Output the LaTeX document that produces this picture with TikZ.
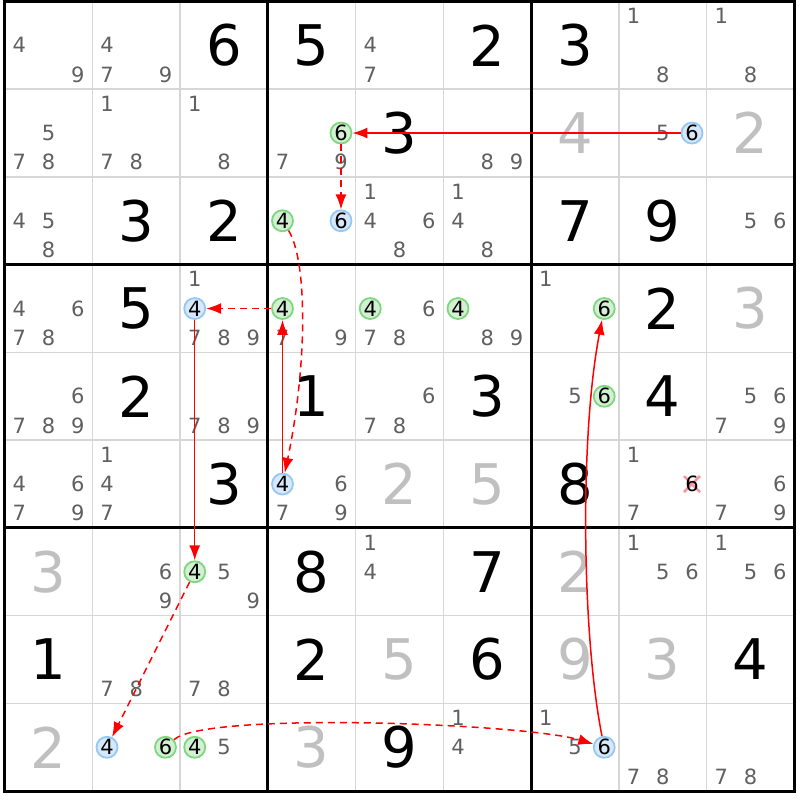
\documentclass[tikz,border=0pt]{standalone}
\usepackage{fontspec}
\setmainfont{DejaVu Sans}
\usetikzlibrary{arrows.meta}
\definecolor{candgray}{RGB}{96,96,96}
\definecolor{solvgray}{RGB}{192,192,192}
\definecolor{gridgray}{RGB}{214,214,214}
\definecolor{gfill}{RGB}{212,240,212}
\definecolor{gline}{RGB}{125,215,125}
\definecolor{bfill}{RGB}{214,232,250}
\definecolor{bline}{RGB}{150,200,245}
\definecolor{linkred}{RGB}{255,0,0}
\definecolor{crossred}{RGB}{245,150,160}
\def\ox{4.6}
\def\oy{1.4}
\tikzset{
  cand/.style={inner sep=0pt, text=candgray, font=\fontsize{21}{21}\selectfont},
  gc/.style={circle, draw=gline, fill=gfill, line width=1.8pt, minimum size=21pt, inner sep=0pt, text=black, font=\fontsize{21}{21}\selectfont},
  bc/.style={circle, draw=bline, fill=bfill, line width=1.8pt, minimum size=21pt, inner sep=0pt, text=black, font=\fontsize{21}{21}\selectfont},
  plainc/.style={inner sep=0pt, text=black, font=\fontsize{21}{21}\selectfont},
  givenD/.style={inner sep=0pt, text=black, font=\fontsize{56}{56}\selectfont},
  solvedD/.style={inner sep=0pt, text=solvgray, font=\fontsize{56}{56}\selectfont},
  link/.style={draw=linkred, color=linkred, line width=1.5pt, -{Latex[length=15pt,width=11pt]}},
  weak/.style={link, line width=1.5pt, dash pattern=on 7pt off 5pt},
}
\newcommand\cands[3]{\foreach \d in {#3}{%
  \pgfmathsetmacro\px{\ox+87.75*#2+(2*mod(\d-1,3)+1)*87.75/6}%
  \pgfmathsetmacro\py{\oy+87.75*#1+(2*floor((\d-1)/3)+1)*87.75/6}%
  \node[cand] (n-#1-#2-\d) at (\px,\py) {\d};}}
\newcommand\ccand[4]{%
  \pgfmathsetmacro\px{\ox+87.75*#2+(2*mod(#3-1,3)+1)*87.75/6}%
  \pgfmathsetmacro\py{\oy+87.75*#1+(2*floor((#3-1)/3)+1)*87.75/6}%
  \node[#4c] (#4-#1-#2-#3) at (\px,\py) {#3};}
\newcommand\gv[3]{\node[givenD] (v-#1-#2) at ({\ox+87.75*(#2+0.5)},{\oy+87.75*(#1+0.5)}) {#3};}
\newcommand\sv[3]{\node[solvedD] (v-#1-#2) at ({\ox+87.75*(#2+0.5)},{\oy+87.75*(#1+0.5)}) {#3};}
\begin{document}
\begin{tikzpicture}[x=1pt,y=-1pt]
\useasboundingbox[fill=white] (0,0) rectangle (800,800);
% grid
\foreach \i in {1,2,4,5,7,8}{
  \draw[gridgray, line width=1.5pt] ({\ox+87.75*\i},\oy) -- ({\ox+87.75*\i},{\oy+789.75});
  \draw[gridgray, line width=1.5pt] (\ox,{\oy+87.75*\i}) -- ({\ox+789.75},{\oy+87.75*\i});
}
\foreach \i in {3,6}{
  \draw[black, line width=3pt] ({\ox+87.75*\i},\oy) -- ({\ox+87.75*\i},{\oy+789.75});
  \draw[black, line width=3pt] (\ox,{\oy+87.75*\i}) -- ({\ox+789.75},{\oy+87.75*\i});
}
\draw[black, line width=3pt] (\ox,\oy) rectangle ({\ox+789.75},{\oy+789.75});
% givens
\gv{0}{2}{6}\gv{0}{3}{5}\gv{0}{5}{2}\gv{0}{6}{3}
\gv{1}{4}{3}
\gv{2}{1}{3}\gv{2}{2}{2}\gv{2}{6}{7}\gv{2}{7}{9}
\gv{3}{1}{5}\gv{3}{7}{2}
\gv{4}{1}{2}\gv{4}{3}{1}\gv{4}{5}{3}\gv{4}{7}{4}
\gv{5}{2}{3}\gv{5}{6}{8}
\gv{6}{3}{8}\gv{6}{5}{7}
\gv{7}{0}{1}\gv{7}{3}{2}\gv{7}{5}{6}\gv{7}{8}{4}
\gv{8}{4}{9}
% solved
\sv{1}{6}{4}\sv{1}{8}{2}
\sv{3}{8}{3}
\sv{5}{4}{2}\sv{5}{5}{5}
\sv{6}{0}{3}\sv{6}{6}{2}
\sv{7}{4}{5}\sv{7}{6}{9}\sv{7}{7}{3}
\sv{8}{0}{2}\sv{8}{3}{3}
% candidates
\cands{0}{0}{4,9}\cands{0}{1}{4,7,9}\cands{0}{4}{4,7}\cands{0}{7}{1,8}\cands{0}{8}{1,8}
\cands{1}{0}{5,7,8}\cands{1}{1}{1,7,8}\cands{1}{2}{1,8}\cands{1}{3}{7,9}\cands{1}{5}{8,9}\cands{1}{7}{5}
\cands{2}{0}{4,5,8}\cands{2}{4}{1,4,6,8}\cands{2}{5}{1,4,8}\cands{2}{8}{5,6}
\cands{3}{0}{4,6,7,8}\cands{3}{2}{1,7,8,9}\cands{3}{3}{7,9}\cands{3}{4}{6,7,8}\cands{3}{5}{8,9}\cands{3}{6}{1}
\cands{4}{0}{6,7,8,9}\cands{4}{2}{7,8,9}\cands{4}{4}{6,7,8}\cands{4}{6}{5}\cands{4}{8}{5,6,7,9}
\cands{5}{0}{4,6,7,9}\cands{5}{1}{1,4,7}\cands{5}{3}{6,7,9}\cands{5}{7}{1,7}\cands{5}{8}{6,7,9}
\cands{6}{1}{6,9}\cands{6}{2}{5,9}\cands{6}{4}{1,4}\cands{6}{7}{1,5,6}\cands{6}{8}{1,5,6}
\cands{7}{1}{7,8}\cands{7}{2}{7,8}
\cands{8}{2}{5}\cands{8}{5}{1,4}\cands{8}{6}{1,5}\cands{8}{7}{7,8}\cands{8}{8}{7,8}
% crossed candidate
\coordinate (x576) at ({\ox+87.75*7+5*87.75/6},{\oy+87.75*5+3*87.75/6});
\draw[crossred, line width=2.5pt] ([shift={(-8,-8)}]x576) -- ([shift={(8,8)}]x576);
\draw[crossred, line width=2.5pt] ([shift={(-8,8)}]x576) -- ([shift={(8,-8)}]x576);
\node[plainc] (x-5-7-6) at (x576) {6};
% circled candidates
\ccand{1}{3}{6}{g}\ccand{1}{7}{6}{b}
\ccand{2}{3}{4}{g}\ccand{2}{3}{6}{b}
\ccand{3}{2}{4}{b}\ccand{3}{3}{4}{g}\ccand{3}{4}{4}{g}\ccand{3}{5}{4}{g}\ccand{3}{6}{6}{g}
\ccand{4}{6}{6}{g}
\ccand{5}{3}{4}{b}
\ccand{6}{2}{4}{g}
\ccand{8}{1}{4}{b}\ccand{8}{1}{6}{g}\ccand{8}{2}{4}{g}\ccand{8}{6}{6}{b}
% links
\draw[link] (b-1-7-6) -- (g-1-3-6);
\draw[weak] (g-1-3-6) -- (b-2-3-6);
\draw[weak] (g-2-3-4) .. controls +(25,40) and +(25,-120) .. (b-5-3-4);
\draw[link] (b-5-3-4) -- (g-3-3-4);
\draw[weak] (g-3-3-4) -- (b-3-2-4);
\draw[link] (b-3-2-4) -- (g-6-2-4);
\draw[weak] (g-6-2-4) -- (b-8-1-4);
\draw[weak] (g-8-1-6) .. controls +(40,-36) and +(-80,-24) .. (b-8-6-6);
\draw[link] (b-8-6-6) .. controls +(-22,-110) and +(-25,130) .. (g-3-6-6);
\end{tikzpicture}
\end{document}
